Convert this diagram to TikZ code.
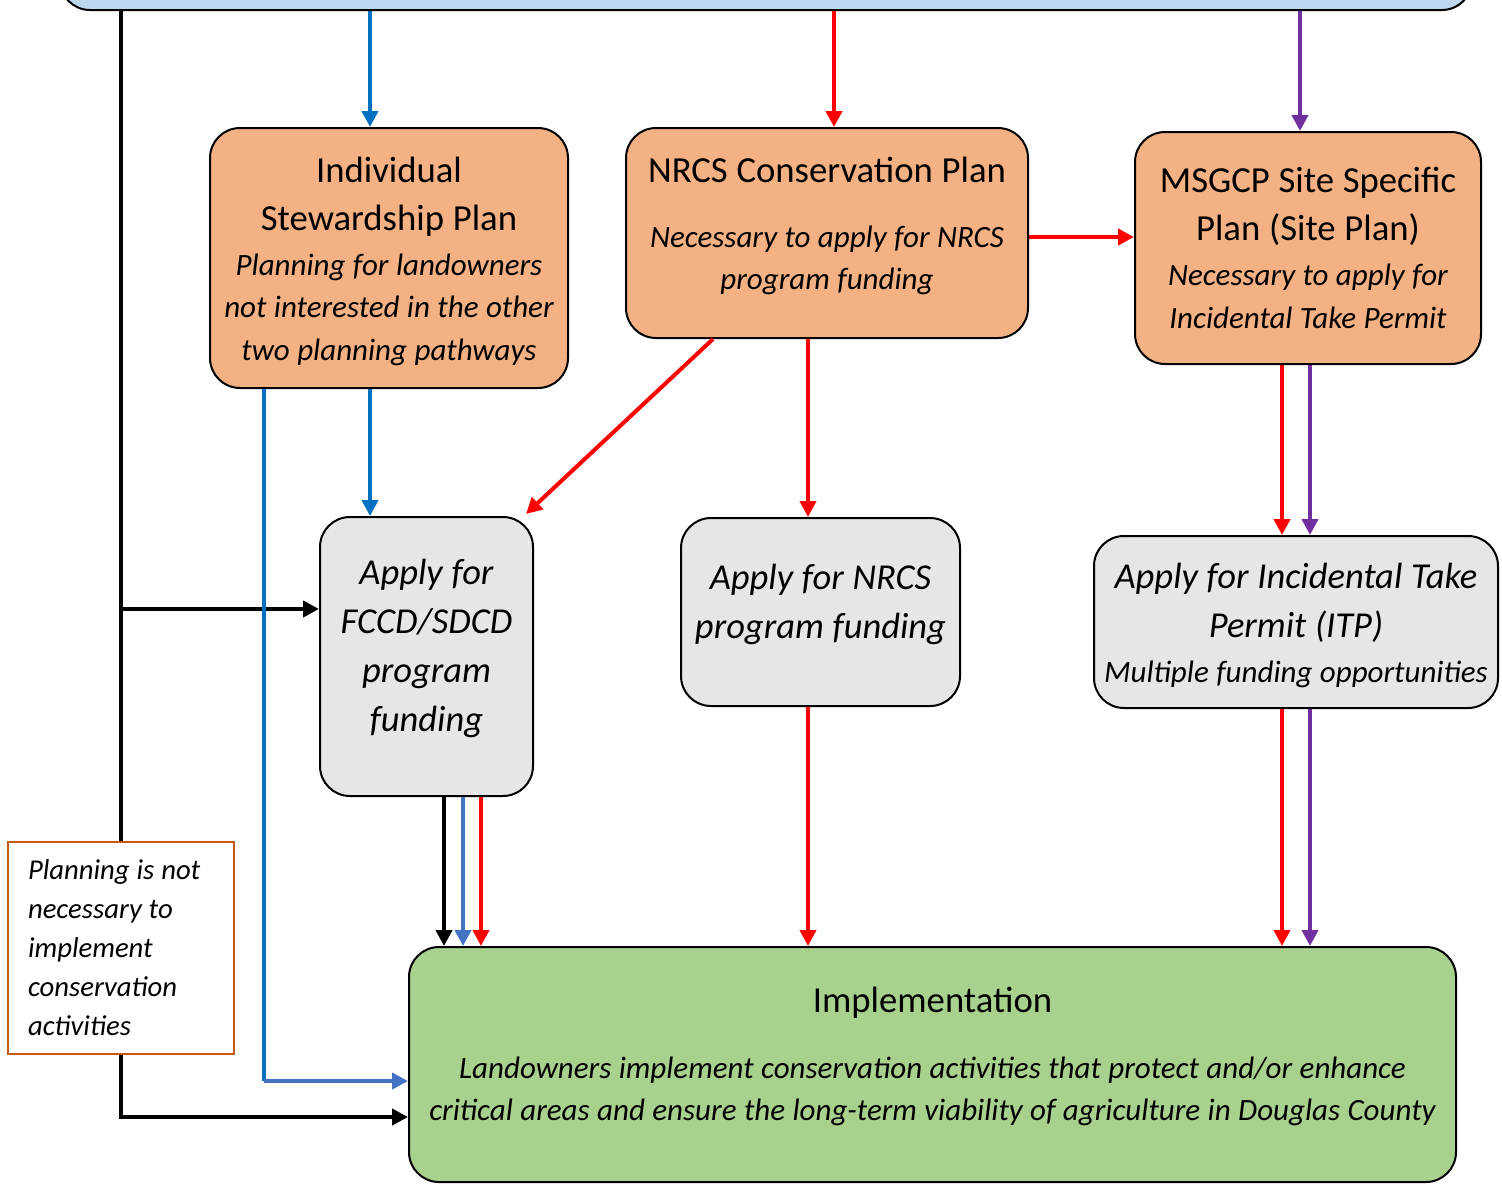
\documentclass[tikz,border=0pt]{standalone}
\usepackage{fontspec}
\setmainfont{Carlito}
\usetikzlibrary{arrows.meta}
\definecolor{topF}{HTML}{BDD7EE}
\definecolor{orF}{HTML}{F4B183}
\definecolor{grF}{HTML}{E6E6E6}
\definecolor{gnF}{HTML}{A9D18E}
\definecolor{blA}{HTML}{0070C0}
\definecolor{blB}{HTML}{4472C4}
\definecolor{rdA}{HTML}{FF0000}
\definecolor{puA}{HTML}{7030A0}
\definecolor{brA}{HTML}{C55A11}
\newcommand\mySp{\spaceskip=0.24em\relax\xspaceskip=0.24em\relax}
\newcommand\myTitle{\fontsize{36.7pt}{48pt}\selectfont\upshape\mySp}
\newcommand\myNote{\fontsize{31pt}{42.5pt}\selectfont\itshape\mySp}
\newcommand\myApply{\fontsize{36.5pt}{49pt}\selectfont\itshape\mySp}
\newcommand\mySide{\fontsize{28.7pt}{39pt}\selectfont\itshape\mySp}
\newcommand\myPad[1]{\par\nointerlineskip\vbox to #1{}}
\newcommand\myStrut[1]{\rule{0pt}{#1}}
\begin{document}
\begin{tikzpicture}[x=1pt,y=-1pt,
  box/.style={draw=black, line width=2pt, rounded corners=30pt, inner xsep=0pt, inner ysep=0pt, align=center},
  obox/.style={box, fill=orF},
  gbox/.style={box, fill=grF},
  conn/.style={line width=4pt, -{Triangle[length=16pt,width=16pt]}},
  seg/.style={line width=4pt},
]
\useasboundingbox (0,0) rectangle (1502,1184);
\clip (0,0) rectangle (1502,1184);

% boxes
\node[box, fill=topF, minimum width=1412pt, minimum height=100pt] (top) at (766,-40) {};

\node[obox, minimum width=358pt, minimum height=260pt, text width=358pt] (ind) at (389,258)
  {{\myTitle\myStrut{32pt}Individual\\Stewardship Plan\par}\vspace{2.5pt}{\myNote Planning for landowners\\not interested in the other\\two planning pathways\par}};

\node[obox, minimum width=402pt, minimum height=210pt, text width=402pt] (nrcs) at (827,233)
  {{\myTitle NRCS Conservation Plan\par}\vspace{22.5pt}{\myNote Necessary to apply for NRCS\\program funding\par}\myPad{14pt}};

\node[obox, minimum width=346pt, minimum height=232pt, text width=346pt] (msgcp) at (1308,248)
  {{\myTitle MSGCP Site Specific\\Plan (Site Plan)\par}\vspace{2.5pt}{\myNote Necessary to apply for\\Incidental Take Permit\par}};

\node[gbox, minimum width=213pt, minimum height=279pt, text width=213pt] (fccd) at (426.5,656.5)
  {\myApply Apply for\\FCCD/SDCD\\program\\funding\par\myPad{16pt}};

\node[gbox, minimum width=279pt, minimum height=188pt, text width=279pt] (nfund) at (820.5,612)
  {\myApply Apply for NRCS\\program funding\par\myPad{16pt}};

\node[gbox, minimum width=404pt, minimum height=172pt, text width=404pt] (itp) at (1296,622)
  {{\myApply\myStrut{33pt}Apply for Incidental Take\\Permit (ITP)\par}\vspace{2.5pt}{\myNote Multiple funding opportunities\par}};

\node[box, fill=gnF, minimum width=1047pt, minimum height=235pt, text width=1047pt] (green) at (932.5,1064.5)
  {{\myTitle Implementation\par}\vspace{23pt}{\myNote Landowners implement conservation activities that protect and/or enhance\\critical areas and ensure the long-term viability of agriculture in Douglas County\par}\myPad{16pt}};

% helper coordinates
\coordinate (kjoin) at (121,609);
\coordinate (kcorner) at (121,1117);
\coordinate (xA) at (370,0);
\coordinate (xB) at (834,0);
\coordinate (xC) at (1300,0);
\coordinate (xD) at (713,0);
\coordinate (xE) at (808,0);
\coordinate (xF) at (1282,0);
\coordinate (xG) at (1310,0);
\coordinate (xH) at (444,0);
\coordinate (xI) at (463,0);
\coordinate (xJ) at (481,0);
\coordinate (bcorner) at (264,1081);
\coordinate (yA) at (0,237);

% connectors
\draw[conn] (top.south -| kjoin) -- (kcorner) -- (green.west |- kcorner);
\draw[conn] (kjoin) -- (fccd.west |- kjoin);

\draw[conn, blA] (top.south -| xA) -- (ind.north -| xA);
\draw[conn, rdA] (top.south -| xB) -- (nrcs.north -| xB);
\draw[conn, puA] (top.south -| xC) -- (msgcp.north -| xC);

\draw[conn, blA] (ind.south -| xA) -- (fccd.north -| xA);
\draw[seg, blA] (ind.south -| bcorner) -- (bcorner);
\draw[conn, blB] (bcorner) -- (green.west |- bcorner);

\draw[conn, rdA] (nrcs.south -| xD) -- ([xshift=-8pt,yshift=2pt]fccd.north east);
\draw[conn, rdA] (nrcs.east |- yA) -- (msgcp.west |- yA);
\draw[conn, rdA] (nrcs.south -| xE) -- (nfund.north -| xE);

\draw[conn, rdA] (msgcp.south -| xF) -- (itp.north -| xF);
\draw[conn, puA] (msgcp.south -| xG) -- (itp.north -| xG);

\draw[conn] (fccd.south -| xH) -- (green.north -| xH);
\draw[conn, blB] (fccd.south -| xI) -- (green.north -| xI);
\draw[conn, rdA] (fccd.south -| xJ) -- (green.north -| xJ);

\draw[conn, rdA] (nfund.south -| xE) -- (green.north -| xE);

\draw[conn, rdA] (itp.south -| xF) -- (green.north -| xF);
\draw[conn, puA] (itp.south -| xG) -- (green.north -| xG);

% side note
\node[draw=brA, line width=2pt, fill=white, minimum width=226pt, minimum height=212pt,
      text width=186pt, inner xsep=20pt, inner ysep=0pt, align=left] (side) at (121,948)
  {\mySide Planning is not\\necessary to\\implement\\conservation\\activities\par};
\end{tikzpicture}
\end{document}
